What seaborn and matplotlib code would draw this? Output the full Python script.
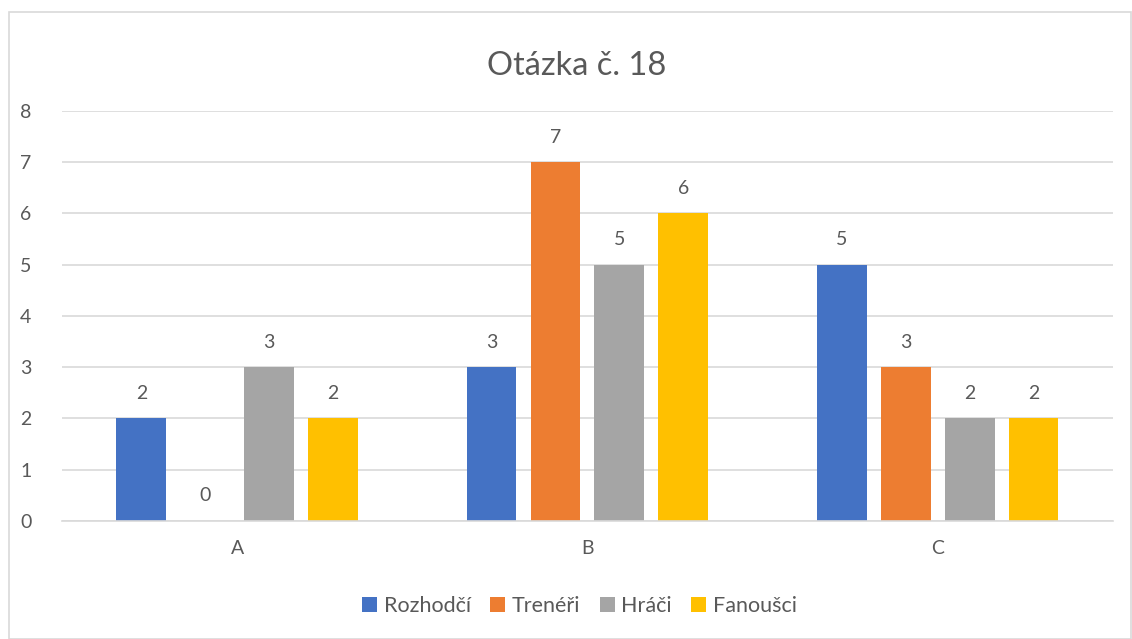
import pandas as pd
import numpy as np
import matplotlib.pyplot as plt
import seaborn as sns
from matplotlib.patches import Rectangle

# Data
categories = ["A", "B", "C"]
series = ["Rozhodčí", "Trenéři", "Hráči", "Fanoušci"]
rozhodci = [2, 3, 5]
treneri = [0, 7, 3]
hraci = [3, 5, 2]
fanousci = [2, 6, 2]
colours = ["#4472C4", "#ED7D31", "#A5A5A5", "#FFC000"]

df = pd.DataFrame({"Kategorie": categories * 4,
                   "Skupina": np.repeat(series, 3),
                   "Počet": rozhodci + treneri + hraci + fanousci})

sns.set_style("white")
plt.rcParams["font.family"] = ["Lato", "DejaVu Sans"]
txt = "#595959"

fig = plt.figure(figsize=(11.32, 6.39), dpi=100)
ax = fig.add_axes([0.0548, 0.1847, 0.9282, 0.6417])

sns.barplot(data=df, x="Kategorie", y="Počet", hue="Skupina", palette=colours,
            width=0.73, gap=0.22, saturation=1, linewidth=0, ax=ax, legend=True)

for cont in ax.containers:
    ax.bar_label(cont, padding=12, fontsize=14, color=txt)

ax.set_ylim(0, 8)
ax.set_xlim(-0.5, 2.5)
ax.set_yticks(range(0, 9))
ax.yaxis.grid(True, color="#D9D9D9", linewidth=1.2)
ax.set_axisbelow(True)
for s in ["top", "right", "left"]:
    ax.spines[s].set_visible(False)
ax.spines["bottom"].set_color("#D9D9D9")
ax.spines["bottom"].set_linewidth(1.2)
ax.tick_params(axis="both", length=0, labelsize=14, colors=txt, pad=14)
ax.tick_params(axis="y", pad=22)
ax.set_xlabel("")
ax.set_ylabel("")

fig.suptitle("Otázka č. 18", x=0.509, y=0.92, fontsize=23.5, color=txt)

handles, labels = ax.get_legend_handles_labels()
ax.legend(handles, labels, loc="center", bbox_to_anchor=(0.512, 0.052),
          bbox_transform=fig.transFigure, ncol=4, frameon=False,
          fontsize=15.5, labelcolor=txt, handlelength=0.7, handleheight=0.7,
          handletextpad=0.3, columnspacing=0.9)

# chart frame
fig.patches.append(Rectangle((9 / 1132, 0), 1122 / 1132, 1 - 12 / 639,
                             transform=fig.transFigure, fill=False,
                             edgecolor="#D9D9D9", linewidth=1.2))

plt.savefig("out.png", dpi=100)
